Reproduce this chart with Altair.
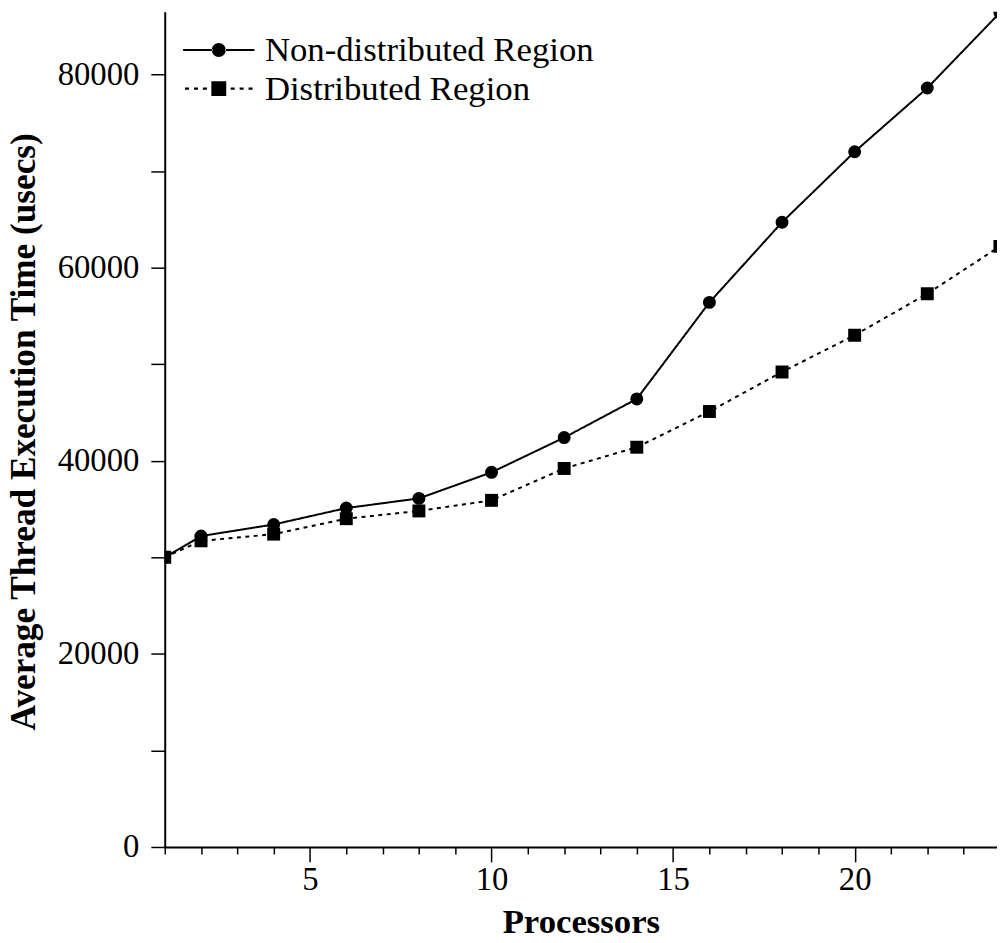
import altair as alt
import pandas as pd

processors = [1, 2, 4, 6, 8, 10, 12, 14, 16, 18, 20, 22, 24]
non_distributed = [30000, 32200, 33400, 35100, 36100, 38800, 42400, 46400, 56400, 64700, 72000, 78600, 86400]
distributed = [30000, 31700, 32400, 34000, 34800, 35900, 39200, 41400, 45100, 49200, 53000, 57300, 62200]
series_names = ["Non-distributed Region", "Distributed Region"]
x_ticks = list(range(1, 24))
y_ticks = list(range(0, 90000, 10000))

rows = []
for name, vals in zip(series_names, [non_distributed, distributed]):
    for p, v in zip(processors, vals):
        rows.append({"Processors": p, "Time": v, "Series": name})
df = pd.DataFrame(rows)

FONT = "Liberation Serif"

x_enc = alt.X(
    "Processors:Q",
    scale=alt.Scale(domain=[1, 23.92], nice=False, zero=False),
    axis=alt.Axis(
        title="Processors", values=x_ticks, format="d",
        labelExpr="datum.value % 5 === 0 ? datum.label : ''",
        tickSize={"condition": {"test": "datum.value % 5 === 0", "value": 15}, "value": 7},
        labelPadding=2, labelFont=FONT, labelFontSize=33, labelColor="black",
        labelFlush=False, labelOverlap=False,
        titleFont=FONT, titleFontSize=35, titleFontWeight="bold", titleColor="black",
        titleY=86.5, titleBaseline="alphabetic",
        domainColor="black", domainWidth=2, tickColor="black", tickWidth=1.5, grid=False,
    ),
)
y_enc = alt.Y(
    "Time:Q",
    scale=alt.Scale(domain=[0, 86500], nice=False),
    axis=alt.Axis(
        title="Average Thread Execution Time (usecs)", values=y_ticks, format="d",
        labelExpr="datum.value % 20000 === 0 ? datum.label : ''",
        tickSize=14, labelPadding=12, labelFont=FONT, labelFontSize=33, labelColor="black",
        labelFlush=False, labelOverlap=False,
        titleFont=FONT, titleFontSize=35.5, titleFontWeight="bold", titleColor="black",
        titleAngle=270, titleX=-131, titleY=423, titleBaseline="alphabetic", titleAlign="center",
        domainColor="black", domainWidth=2, tickColor="black", tickWidth=1.5, grid=False,
    ),
)

# legend glyphs (line + marker) as filled symbol paths, in units of 7 px
h = 0.15


def bar(x0, x1):
    return "M%s,-%s L%s,-%s L%s,%s L%s,%s Z" % (x0, h, x1, h, x1, h, x0, h)


circ_path = " ".join([
    bar(-5.14, -0.9), bar(0.9, 5.14),
    "M-1,0 A1,1,0,1,0,1,0 A1,1,0,1,0,-1,0 Z",
])
dash_segments = [(1.71, 2.29), (3.0, 3.57), (4.29, 4.86)]
sq_parts = ["M-1.07,-1.07 L1.07,-1.07 L1.07,1.07 L-1.07,1.07 Z"]
for a, b in dash_segments:
    sq_parts.append(bar(a, b))
    sq_parts.append(bar(-b, -a))
sq_path = " ".join(sq_parts)

legend = alt.Legend(
    title=None, orient="none", legendX=37, legendY=21, padding=0,
    symbolSize=196, symbolStrokeWidth=0, symbolFillColor="black",
    symbolOpacity=1, labelLimit=0,
    labelFont=FONT, labelFontSize=35, labelColor="black", labelOffset=29, rowPadding=3,
)

dash_scale = alt.Scale(domain=series_names, range=[[1, 0], [4, 4.5]])

base = alt.Chart(df)
lines = base.mark_line(color="black", strokeWidth=2, clip=True).encode(
    x=x_enc, y=y_enc,
    strokeDash=alt.StrokeDash("Series:N", scale=dash_scale, legend=None),
)
points = base.mark_point(filled=True, color="black", opacity=1, size=170, clip=True).encode(
    x=x_enc, y=y_enc,
    shape=alt.Shape("Series:N", scale=alt.Scale(domain=series_names, range=["circle", "square"]), legend=None),
)
legend_layer = base.mark_point(filled=True, color="black", opacity=0, clip=True).encode(
    x=x_enc, y=y_enc,
    shape=alt.Shape("Series:N", scale=alt.Scale(domain=series_names, range=[circ_path, sq_path]), legend=legend),
)

chart = alt.layer(lines, points, legend_layer).resolve_scale(
    shape="independent"
).properties(
    width=839, height=842,
    padding={"left": 158, "top": 0, "right": 0, "bottom": 91},
    autosize=alt.AutoSizeParams(type="none"),
    background="white",
).configure_view(stroke=None)

chart.save("out.html", embed_options={"renderer": "svg", "actions": False})
